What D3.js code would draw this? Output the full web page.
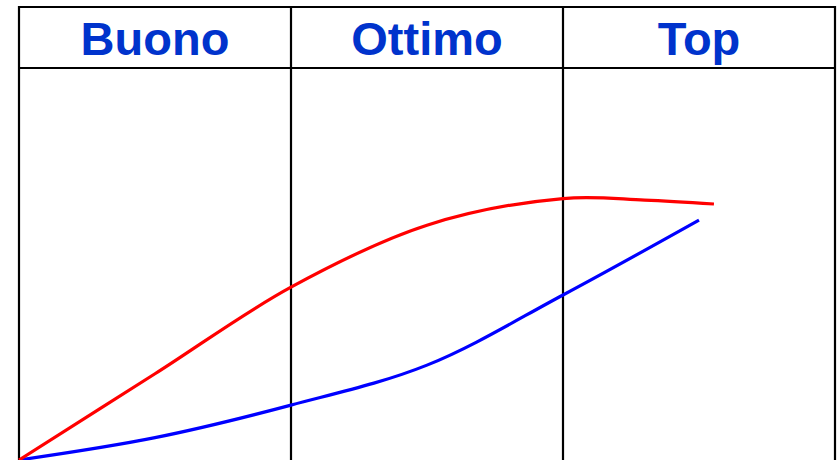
<!DOCTYPE html>
<html>
<head>
<meta charset="utf-8">
<script src="https://cdn.jsdelivr.net/npm/d3@7"></script>
<style>
  body { margin: 0; background: #fff; }
</style>
</head>
<body>
<script>
// colonne della tabella
var categories = ["Buono", "Ottimo", "Top"];

// curva rossa (x in colonne, y in %)
var redX = [0, 0.5, 1.0, 1.5, 2.0, 2.3, 2.555];
var redY = [0, 22.0, 44.1, 59.9, 66.7, 66.3, 65.3];

// curva blu
var blueX = [0, 0.5, 1.0, 1.5, 2.0, 2.5];
var blueY = [0, 5.7, 14.0, 24.2, 42.1, 61.2];

var width = 838, height = 460;
var left = 19, right = 835, topY = 7, headerY = 68;

var svg = d3.select("body").append("svg")
  .attr("width", width).attr("height", height);

var xScale = d3.scaleLinear().domain([0, categories.length]).range([left, right]);
var yScale = d3.scaleLinear().domain([0, 100]).range([460, headerY]);
var band = d3.scaleBand().domain(categories).range([left, right]);

// griglia
var grid = svg.append("g").attr("stroke", "#000").attr("stroke-width", 2.2).attr("fill", "none");
grid.append("line").attr("x1", left - 1).attr("x2", right + 1).attr("y1", topY).attr("y2", topY);
grid.append("line").attr("x1", left - 1).attr("x2", right + 1).attr("y1", headerY).attr("y2", headerY);
d3.range(categories.length + 1).forEach(function(i) {
  grid.append("line")
    .attr("x1", xScale(i)).attr("x2", xScale(i))
    .attr("y1", topY - 1).attr("y2", height + 2);
});

// intestazioni
svg.selectAll("text.head").data(categories).enter()
  .append("text")
  .attr("x", function(d) { return band(d) + band.bandwidth() / 2; })
  .attr("y", 55)
  .attr("text-anchor", "middle")
  .attr("font-family", "Liberation Sans, Arial, sans-serif")
  .attr("font-weight", "bold")
  .attr("font-size", 47)
  .attr("fill", "#0033cc")
  .text(function(d) { return d; });

var line = d3.line()
  .x(function(d) { return xScale(d[0]); })
  .y(function(d) { return yScale(d[1]); })
  .curve(d3.curveCatmullRom.alpha(0.5));

var red = d3.zip(redX, redY), blue = d3.zip(blueX, blueY);

svg.append("path").attr("fill", "none").attr("stroke", "#0000ff")
  .attr("stroke-width", 3.2).attr("d", line(blue));
svg.append("path").attr("fill", "none").attr("stroke", "#ff0000")
  .attr("stroke-width", 3.2).attr("d", line(red));
</script>
</body>
</html>
